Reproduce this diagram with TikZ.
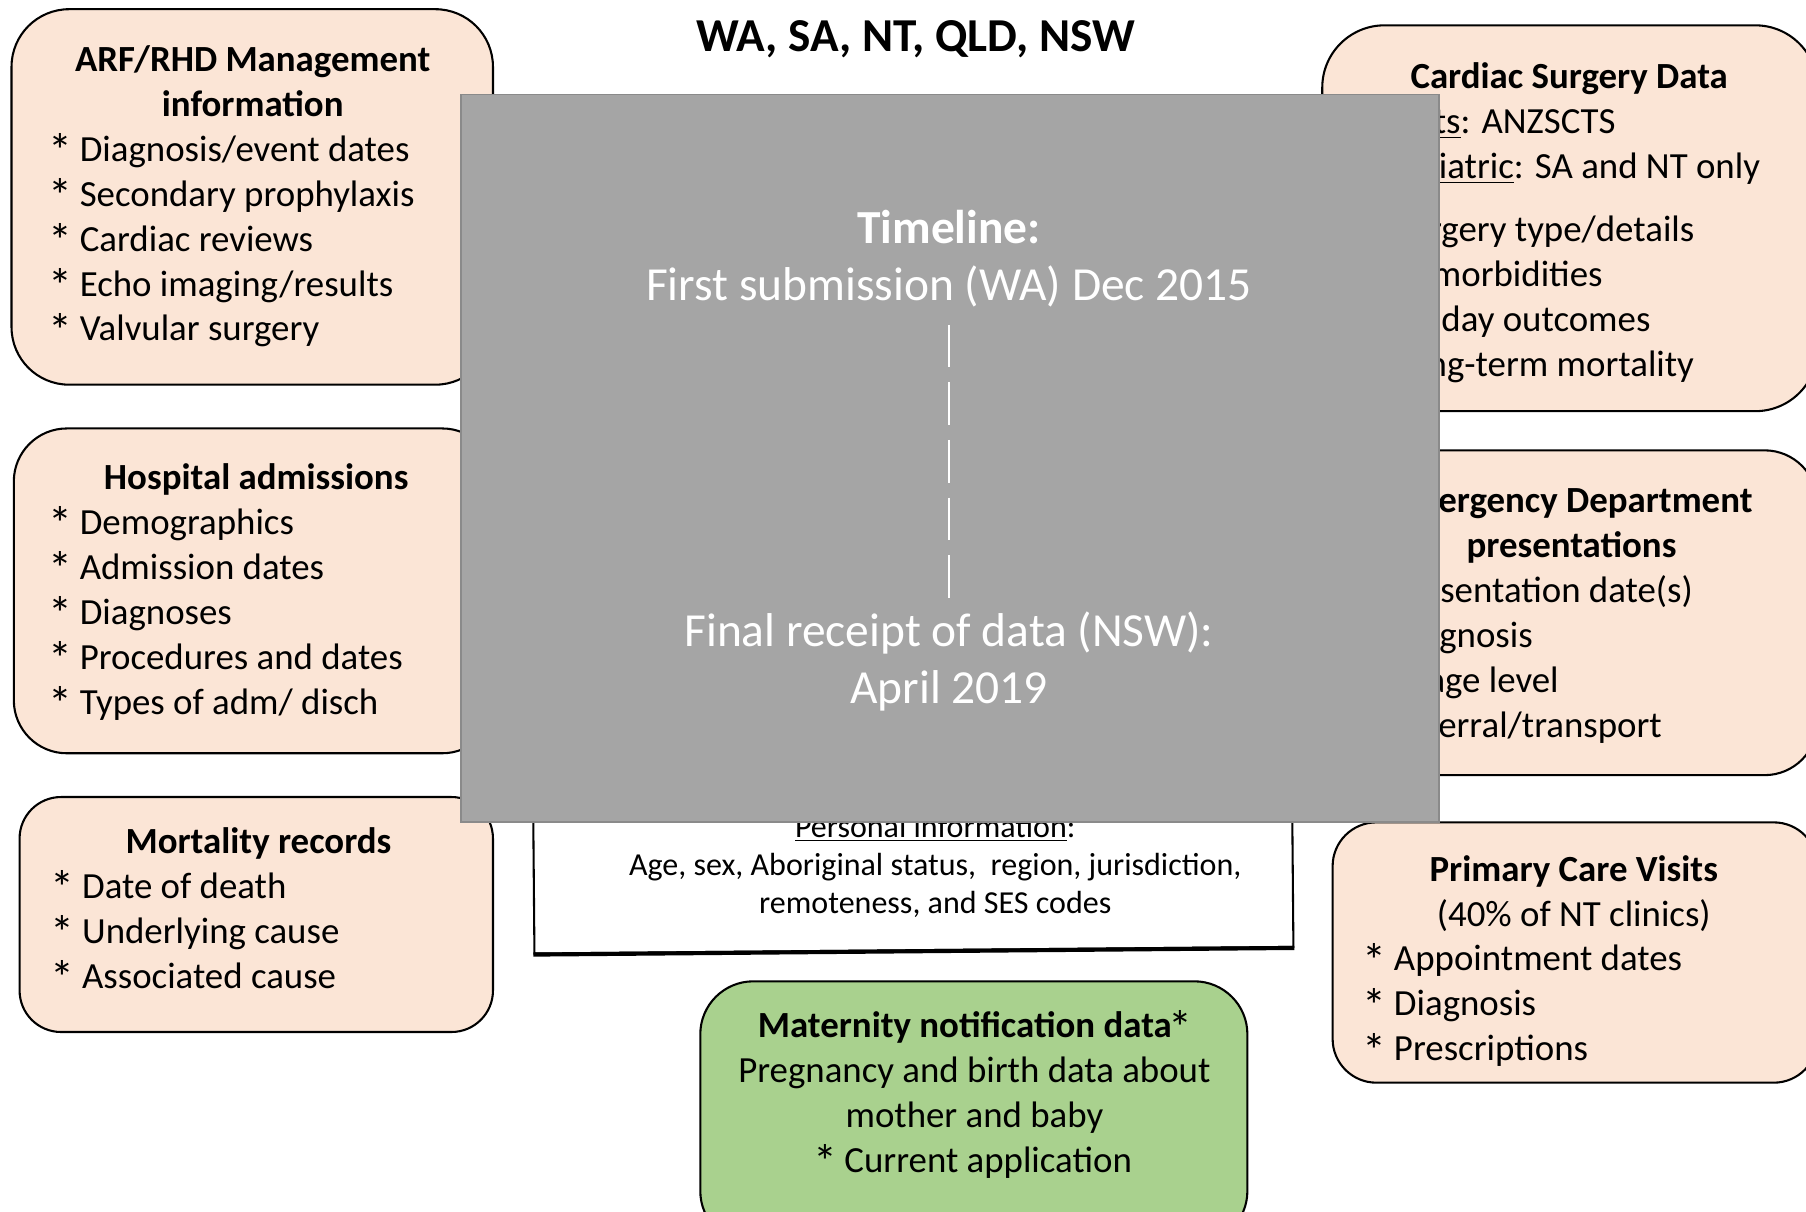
\documentclass[tikz,border=0pt]{standalone}
\usepackage{fontspec}
\usepackage{graphicx}
\setmainfont{Carlito}
\usetikzlibrary{fit}
\definecolor{peach}{HTML}{FBE5D6}
\definecolor{mgreen}{HTML}{A9D18E}
\definecolor{tlgray}{HTML}{A5A5A5}
\definecolor{tlborder}{HTML}{8A8A8A}
\newcommand{\ctr}[1]{\makebox[\linewidth][c]{#1}}
\newcommand{\bul}{\makebox[0.52em][l]{\hspace{-0.1em}\raisebox{-0.17em}{\scalebox{1.3}{*}}}}
\begin{document}
\begin{tikzpicture}[x=0.5pt,y=-0.5pt,
  databox/.style={draw=black, line width=0.9pt, fill=peach, inner sep=0pt},
  bodytext/.style={inner sep=0pt, anchor=base west, align=flush left, font=\fontsize{16pt}{19.5pt}\selectfont,
    execute at begin node={\spaceskip=0pt\xspaceskip=0pt}},
  ctext/.style={inner sep=0pt, anchor=base, align=flush center,
    execute at begin node={\spaceskip=0pt\xspaceskip=0pt}},
]
\useasboundingbox (0,0) rectangle (1568,1052);
\clip (0,0) rectangle (1568,1052);
\fill[white] (0,0) rectangle (1568,1052);

% title
\node[ctext, font=\fontsize{20.5pt}{24pt}\selectfont\bfseries] (title) at (795,45) {WA, SA, NT, QLD, NSW};

% left boxes
\node[databox, rounded corners=25pt, fit={(10,8) (428,334)}] (arf) {};
\node[bodytext, text width=174pt] (arft) at (45,62) {\ctr{\bfseries ARF/RHD Management}\\\ctr{\bfseries information}\\\bul{} Diagnosis/event dates\\\bul{} Secondary prophylaxis\\\bul{} Cardiac reviews\\\bul{} Echo imaging/results\\\bul{} Valvular surgery};

\node[databox, rounded corners=23pt, fit={(12,372) (430,654)}] (hosp) {};
\node[bodytext, text width=177pt] (hospt) at (45,425) {\ctr{\bfseries Hospital admissions}\\\bul{} Demographics\\\bul{} Admission dates\\\bul{} Diagnoses\\\bul{} Procedures and dates\\\bul{} Types of adm/ disch};

\node[databox, rounded corners=18pt, fit={(17,692) (428,896)}] (mort) {};
\node[bodytext, text width=177pt] (mortt) at (47,741) {\ctr{\bfseries Mortality records}\\\bul{} Date of death\\\bul{} Underlying cause\\\bul{} Associated cause};

% right boxes
\node[databox, rounded corners=27pt, fit={(1148,22) (1578,357)}] (card) {};
\node[bodytext, text width=177pt] (cardt) at (1185,77) {\ctr{\bfseries Cardiac Surgery Data}\\\underline{Adults}: ANZSCTS\\\underline{Paediatric}: SA and NT only\\[8pt]\bul{} Surgery type/details\\\bul{} Comorbidities\\\bul{} 30-day outcomes\\\bul{} Long-term mortality};

\node[databox, rounded corners=23pt, fit={(1148,391) (1578,673)}] (ed) {};
\node[bodytext, text width=181pt] (edt) at (1183,445) {\ctr{\bfseries Emergency Department}\\\ctr{\bfseries presentations}\\\bul{} Presentation date(s)\\\bul{} Diagnosis\\\bul{} Triage level\\\bul{} Referral/transport};

\node[databox, rounded corners=19pt, fit={(1157,714) (1578,940)}] (prim) {};
\node[bodytext, text width=180pt] (primt) at (1186,765) {\ctr{\bfseries Primary Care Visits}\\\ctr{(40\% of NT clinics)}\\\bul{} Appointment dates\\\bul{} Diagnosis\\\bul{} Prescriptions};

% personal information box (behind timeline)
\node[draw=black, line width=0.9pt, fill=white, minimum width=329.5pt, minimum height=113pt, inner sep=0pt, rotate=0.5] (wb) at (792.5,712) {};
\draw[line width=1.8pt] (wb.south west) -- (wb.south east);
\node[ctext, text width=320pt, font=\fontsize{13.9pt}{16.5pt}\selectfont] (pers) at (812,727) {\underline{Personal information}:\\Age, sex, Aboriginal status,\ \ region, jurisdiction,\\remoteness, and SES codes};

% timeline overlay
\node[draw=tlborder, line width=0.8pt, fill=tlgray, inner sep=0pt, fit={(400,82) (1249,714)}] (tl) {};
\node[ctext, text width=400pt, text=white, font=\fontsize{20.6pt}{24.75pt}\selectfont] (tl1) at (824,211) {\textbf{Timeline:}\\First submission (WA) Dec 2015};
\node[ctext, text width=400pt, text=white, font=\fontsize{20.6pt}{25pt}\selectfont] (tl2) at (824,561) {Final receipt of data (NSW):\\April 2019};
\coordinate (d1) at (824,282);
\coordinate (d2) at (824,520);
\draw[white, line width=1pt, dash pattern=on 18.5pt off 6.5pt] (d1) -- (d2);

% maternity
\node[draw=black, line width=0.9pt, fill=mgreen, inner sep=0pt, rounded corners=23pt, fit={(608,852) (1083,1080)}] (mat) {};
\node[ctext, text width=230pt, font=\fontsize{16pt}{19.5pt}\selectfont] (matt) at (846,901) {\textbf{Maternity notification data}\bul\\Pregnancy and birth data about\\mother and baby\\\bul{} Current application};
\end{tikzpicture}
\end{document}
